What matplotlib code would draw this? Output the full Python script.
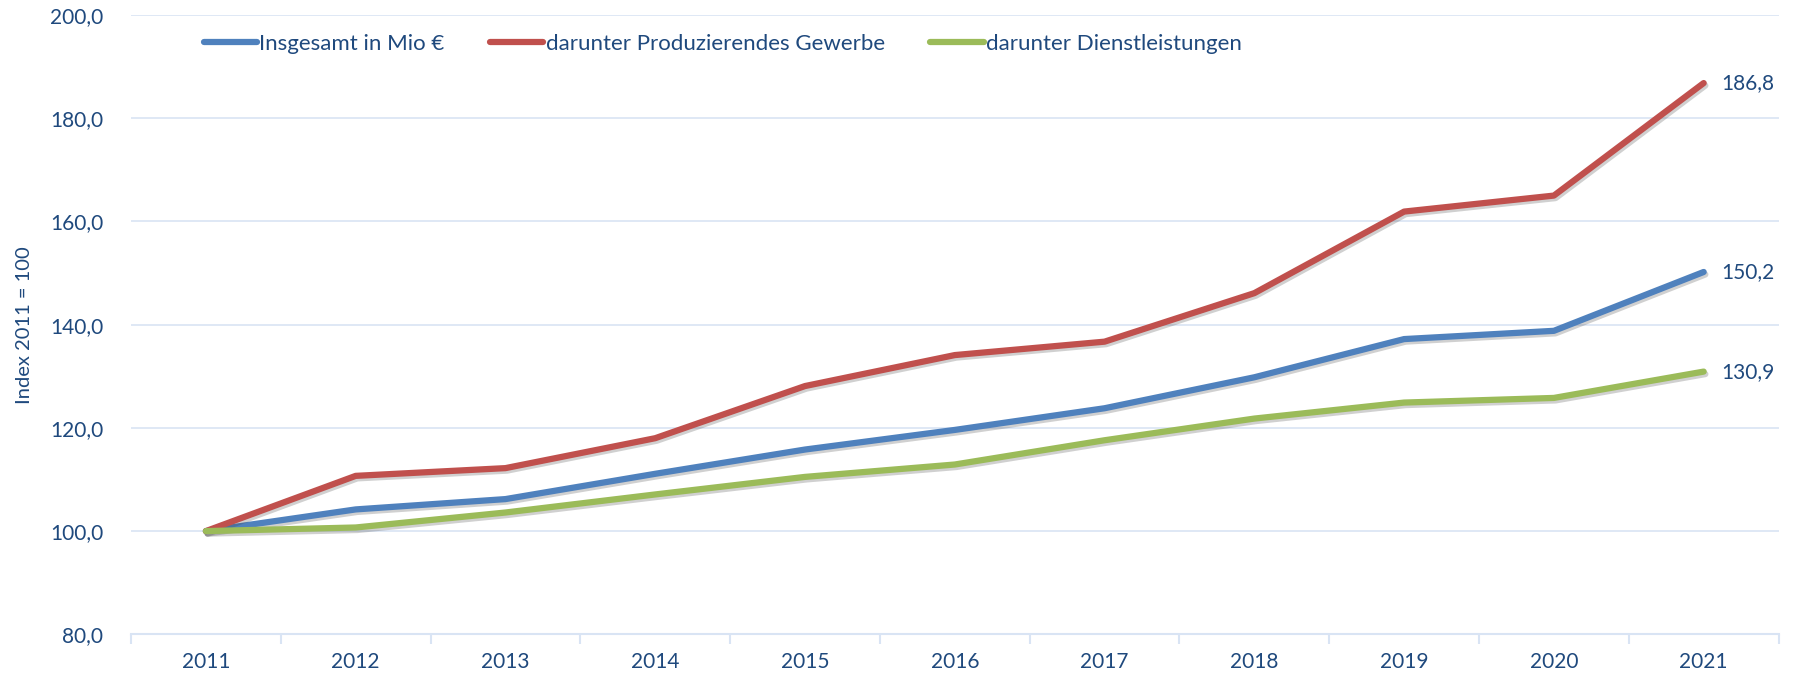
import matplotlib
matplotlib.use("Agg")
import matplotlib.pyplot as plt
import matplotlib.patheffects as pe
from matplotlib.ticker import FuncFormatter, MultipleLocator

years = ["2011", "2012", "2013", "2014", "2015", "2016", "2017", "2018", "2019", "2020", "2021"]
insgesamt = [100.0, 104.2, 106.2, 111.1, 115.8, 119.6, 123.8, 129.8, 137.2, 138.8, 150.2]
gewerbe = [100.0, 110.7, 112.2, 118.0, 128.1, 134.1, 136.7, 146.1, 161.9, 165.0, 186.8]
dienst = [100.0, 100.7, 103.6, 107.1, 110.5, 112.9, 117.6, 121.8, 124.9, 125.8, 130.9]

labels = ["Insgesamt in Mio €", "darunter Produzierendes Gewerbe", "darunter Dienstleistungen"]
colors = ["#4F81BD", "#C0504D", "#9BBB59"]
txt = "#1F497D"
grid_c = "#D9E4F4"

plt.rcParams['font.family'] = ['Lato', 'DejaVu Sans']

fig = plt.figure(figsize=(18.02, 6.78), dpi=100)
ax = fig.add_axes([0.0727, 0.0644, 0.9143, 0.9136])

x = list(range(len(years)))
shadow = [pe.SimpleLineShadow(offset=(1.2, -1.8), shadow_color="#444444", alpha=0.25), pe.Normal()]
lines = []
for vals, lab, c in zip([insgesamt, gewerbe, dienst], labels, colors):
    ax.plot(x, vals, color=c, lw=4.5, solid_capstyle="round", solid_joinstyle="round",
            path_effects=shadow, zorder=3)
    # legend handle without shadow
    lines.append(plt.Line2D([], [], color=c, lw=4.5, solid_capstyle="round", label=lab))

# end labels
for vals in [gewerbe, insgesamt, dienst]:
    ax.annotate(f"{vals[-1]:.1f}".replace(".", ","), (x[-1], vals[-1]),
                xytext=(13, 0), textcoords="offset points", va="center", ha="left",
                fontsize=15, color=txt)

ax.set_xlim(-0.5, len(years) - 0.5)
ax.set_ylim(80, 200)
ax.yaxis.set_major_locator(MultipleLocator(20))
ax.yaxis.set_major_formatter(FuncFormatter(lambda v, p: f"{v:.1f}".replace(".", ",")))
ax.grid(axis="y", color=grid_c, lw=1.2, zorder=0)

ax.set_xticks(x)
ax.set_xticklabels(years)
ax.set_xticks([i - 0.5 for i in range(len(years) + 1)], minor=True)
ax.tick_params(axis="x", which="major", length=0, pad=13, labelsize=15, labelcolor=txt)
ax.tick_params(axis="x", which="minor", length=7, color=grid_c, width=1.5)
ax.tick_params(axis="y", length=0, pad=20, labelsize=15, labelcolor=txt)

for s in ["top", "right", "left"]:
    ax.spines[s].set_visible(False)
ax.spines["bottom"].set_color(grid_c)
ax.spines["bottom"].set_linewidth(1.5)

ax.set_ylabel("Index 2011 = 100", fontsize=14.5, color=txt, labelpad=12)

ax.legend(handles=lines, loc="upper left", bbox_to_anchor=(0.032, 1.002), ncol=3, frameon=False,
          fontsize=16, handlelength=2.4, handletextpad=0.1, columnspacing=2.05,
          labelcolor=txt)

fig.savefig("out.png", dpi=100)
